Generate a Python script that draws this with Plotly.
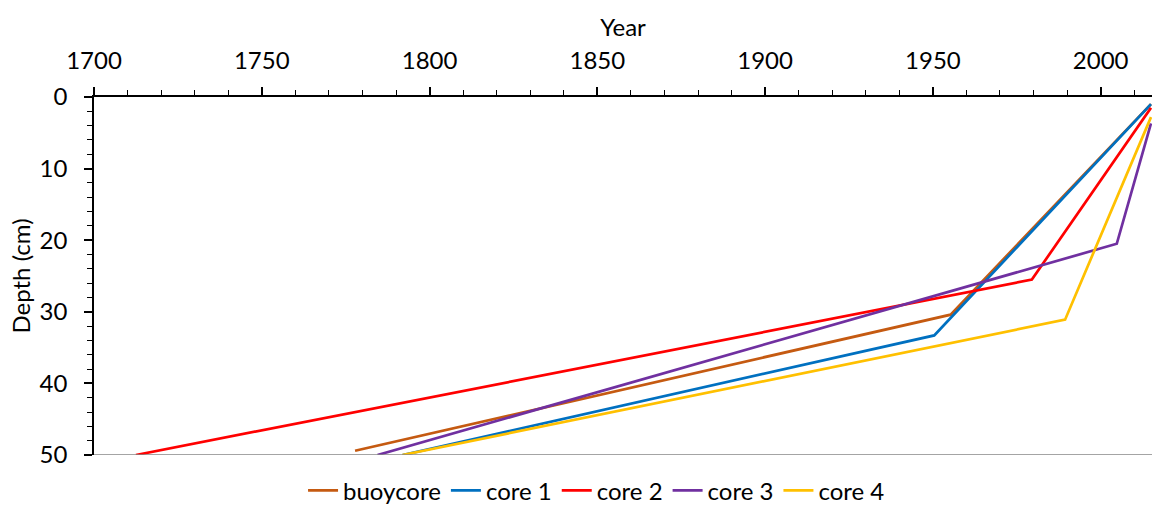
import plotly.graph_objects as go

# Sediment core age-depth profiles
series_names = ["buoycore", "core 1", "core 2", "core 3", "core 4"]
series_colors = ["#C55A11", "#0070C0", "#FF0000", "#7030A0", "#FFC000"]

buoycore_year = [2015, 1955.3, 1777.8]
buoycore_depth = [1.0, 30.4, 49.4]

core1_year = [2015, 1950.4, 1792.0]
core1_depth = [1.0, 33.3, 50.0]

core2_year = [2015, 1979.5, 1712.5]
core2_depth = [1.5, 25.5, 50.0]

core3_year = [2015, 2004.8, 1784.5]
core3_depth = [3.7, 20.5, 50.0]

core4_year = [2015, 1989.4, 1791.9]
core4_depth = [2.8, 31.1, 50.0]

years = [buoycore_year, core1_year, core2_year, core3_year, core4_year]
depths = [buoycore_depth, core1_depth, core2_depth, core3_depth, core4_depth]

FONT = "Lato"
FS = 24

fig = go.Figure()
for name, color, x, y in zip(series_names, series_colors, years, depths):
    fig.add_trace(go.Scatter(
        x=x, y=y, name=name, mode="lines",
        line=dict(color=color, width=2.7),
    ))

# grey baseline at the bottom of the depth axis
fig.add_shape(type="line", xref="paper", yref="y", x0=0, x1=1, y0=50, y1=50,
              line=dict(color="#868686", width=1.5), layer="above")

fig.update_layout(
    width=1152, height=507,
    margin=dict(l=94, r=0, t=97, b=52),
    paper_bgcolor="white", plot_bgcolor="white",
    font=dict(family=FONT, size=FS, color="black"),
    showlegend=True,
    legend=dict(orientation="h", x=0.475, xanchor="center",
                yref="container", y=0.032, yanchor="middle",
                font=dict(size=FS), itemwidth=30, tracegroupgap=0),
    xaxis=dict(
        side="top", range=[1700, 2015.3], dtick=50, tick0=1700,
        showgrid=False, zeroline=False,
        showline=True, linecolor="black", linewidth=1.5,
        ticks="outside", ticklen=8, tickwidth=1.5, tickcolor="black",
        ticklabelstandoff=9,
        minor=dict(dtick=10, tick0=1700, ticks="outside", ticklen=5,
                   tickwidth=1, tickcolor="black", showgrid=False),
        title=dict(text="Year", standoff=1, font=dict(size=FS)),
        tickfont=dict(size=FS),
    ),
    yaxis=dict(
        range=[50, 0], dtick=10, tick0=0,
        showgrid=False, zeroline=False,
        showline=True, linecolor="black", linewidth=1.5,
        ticks="outside", ticklen=8, tickwidth=1.5, tickcolor="black",
        ticklabelstandoff=12,
        minor=dict(dtick=2, tick0=0, ticks="outside", ticklen=5,
                   tickwidth=1, tickcolor="black", showgrid=False),
        title=dict(text="Depth (cm)", standoff=2, font=dict(size=FS)),
        tickfont=dict(size=FS),
    ),
)

fig.write_html("out.html")
